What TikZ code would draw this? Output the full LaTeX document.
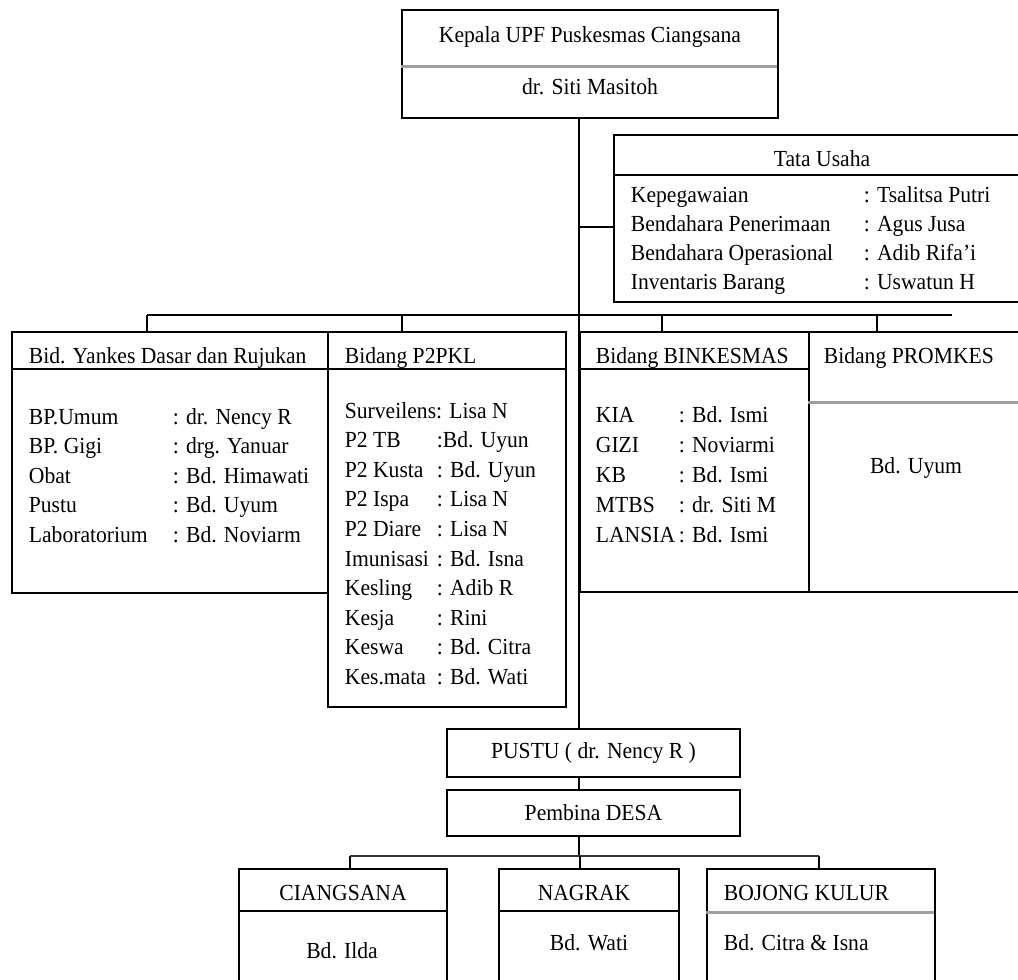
\documentclass[tikz,border=0pt]{standalone}
\usepackage{fontspec}
\setmainfont{Liberation Serif}[FakeStretch=0.94]
\usetikzlibrary{positioning}

\begin{document}
\begin{tikzpicture}[x=1pt, y=-1pt, line width=1.8pt,
    box/.style={draw, inner sep=0pt},
    txt/.style={inner sep=0pt, font=\fontsize{23}{29.5}\selectfont},
    gline/.style={draw=gray!75, line width=3pt}]
  \useasboundingbox (0,0) rectangle (1018,980);
  \clip (0,0) rectangle (1018,980);

  % kepala dan tata usaha
  \node[box, minimum width=376pt, minimum height=108pt] (kepala) at (590,64) {};
  \draw[gline] (kepala.north west) ++(0,57) -- ++(376,0);
  \node[txt, anchor=base] (kepalaT) at (590,42) {Kepala UPF Puskesmas Ciangsana};
  \node[txt, anchor=base] (kepalaN) at (590,94) {dr. Siti Masitoh};

  \node[box, minimum width=416pt, minimum height=167pt] (tata) at (822,218.5) {};
  \draw (tata.north west) ++(0,41) -- ++(416,0);
  \node[txt, anchor=base] (tataT) at (822,166) {Tata Usaha};
  \node[txt, anchor=base west, font=\fontsize{23}{29}\selectfont] (tataL) at (630,202) {\begin{tabular}[t]{@{}p{233pt}@{}l@{}}
    Kepegawaian & : Tsalitsa Putri\\
    Bendahara Penerimaan & : Agus Jusa\\
    Bendahara Operasional & : Adib Rifa'i\\
    Inventaris Barang & : Uswatun H
  \end{tabular}};

  % bidang
  \node[box, minimum width=316pt, minimum height=261pt] (yank) at (170,462.5) {};
  \node[box, minimum width=238pt, minimum height=375pt] (ptwo) at (447,519.5) {};
  \node[box, minimum width=229pt, minimum height=260pt] (bink) at (694.5,462) {};
  \node[box, minimum width=216pt, minimum height=260pt] (prom) at (917,462) {};
  \draw (yank.north west) ++(0,38) -- ++(316,0);
  \draw (ptwo.north west) ++(0,38) -- ++(238,0);
  \draw (bink.north west) ++(0,38) -- ++(229,0);
  \draw[gline] (prom.north west) ++(0,71) -- ++(216,0);

  \node[txt, anchor=base west] (yankT) at (28,363) {Bid. Yankes Dasar dan Rujukan};
  \node[txt, anchor=base west] (ptwoT) at (344,363) {Bidang P2PKL};
  \node[txt, anchor=base west] (binkT) at (595,363) {Bidang BINKESMAS};
  \node[txt, anchor=base west] (promT) at (823,363) {Bidang PROMKES};

  \node[txt, anchor=base west] (yankL) at (28,424) {\begin{tabular}[t]{@{}p{144pt}@{}l@{}}
    BP.Umum & : dr. Nency R\\
    BP. Gigi & : drg. Yanuar\\
    Obat & : Bd. Himawati\\
    Pustu & : Bd. Uyum\\
    Laboratorium & : Bd. Noviarm
  \end{tabular}};
  \node[txt, anchor=base west, font=\fontsize{23}{29.6}\selectfont] (ptwoL) at (344,418) {\begin{tabular}[t]{@{}p{92pt}@{}l@{}}
    \multicolumn{2}{@{}l@{}}{Surveilens: Lisa N}\\
    P2 TB & :Bd. Uyun\\
    P2 Kusta & : Bd. Uyun\\
    P2 Ispa & : Lisa N\\
    P2 Diare & : Lisa N\\
    Imunisasi & : Bd. Isna\\
    Kesling & : Adib R\\
    Kesja & : Rini\\
    Keswa & : Bd. Citra\\
    Kes.mata & : Bd. Wati
  \end{tabular}};
  \node[txt, anchor=base west, font=\fontsize{23}{30.2}\selectfont] (binkL) at (595,422) {\begin{tabular}[t]{@{}p{83pt}@{}l@{}}
    KIA & : Bd. Ismi\\
    GIZI & : Noviarmi\\
    KB & : Bd. Ismi\\
    MTBS & : dr. Siti M\\
    LANSIA & : Bd. Ismi
  \end{tabular}};
  \node[txt, anchor=base] (promN) at (916,473) {Bd. Uyum};

  % pustu dan desa
  \node[box, txt, minimum width=293pt, minimum height=48pt] (pustu) at (593.5,753) {PUSTU ( dr. Nency R )};
  \node[box, txt, minimum width=293pt, minimum height=46pt] (desa) at (593.5,813) {Pembina DESA};

  \node[box, minimum width=208pt, minimum height=131pt] (cia) at (343,934.5) {};
  \node[box, minimum width=180pt, minimum height=131pt] (nag) at (589,934.5) {};
  \node[box, minimum width=228pt, minimum height=131pt] (boj) at (821,934.5) {};
  \draw (cia.north west) ++(0,43) -- ++(208,0);
  \draw (nag.north west) ++(0,43) -- ++(180,0);
  \draw[gline] (boj.north west) ++(0,44) -- ++(228,0);
  \node[txt, anchor=base] (ciaT) at (343,900) {CIANGSANA};
  \node[txt, anchor=base] (nagT) at (584,900) {NAGRAK};
  \node[txt, anchor=base west] (bojT) at (723,900) {BOJONG KULUR};
  \node[txt, anchor=base] (ciaN) at (342,958) {Bd. Ilda};
  \node[txt, anchor=base] (nagN) at (589,950) {Bd. Wati};
  \node[txt, anchor=base west] (bojN) at (723,950) {Bd. Citra \& Isna};

  % garis
  \coordinate (barA) at (147,315);
  \coordinate (barB) at (952,315);
  \coordinate (barC) at (350,856);
  \coordinate (barD) at (819,856);
  \draw (kepala.south -| bink.west) -- (pustu.north -| bink.west);
  \draw ([yshift=-8.5pt]tata.west) -- ([yshift=-8.5pt]tata.west -| bink.west);
  \draw (barA) -- (barB);
  \foreach \x/\n in {147/yank, 402/ptwo, 662/bink, 877/prom}
    \draw (\x,315) -- (\x,0 |- \n.north);
  \draw (pustu.south -| bink.west) -- (desa.north -| bink.west);
  \draw (desa.south -| bink.west) -- (barC -| bink.west);
  \draw[draw=black!80] (barC) -- (barD);
  \foreach \x/\n in {350/cia, 580/nag, 819/boj}
    \draw (\x,856) -- (\x,0 |- \n.north);
\end{tikzpicture}
\end{document}
